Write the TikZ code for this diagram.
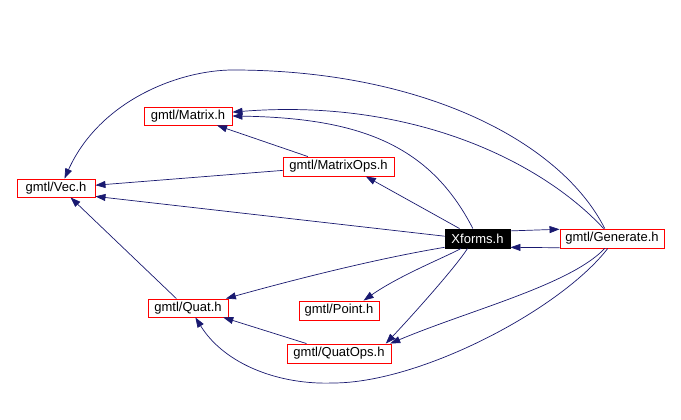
\documentclass[tikz,border=0pt]{standalone}
\usepackage{fontspec}
\setmainfont{Liberation Sans}
\usetikzlibrary{arrows.meta}
\definecolor{edgeblue}{HTML}{191970}
\begin{document}
\begin{tikzpicture}[x=1pt,y=-1pt,
  box/.style={draw=red, line width=0.9pt, rectangle, inner sep=0pt, font=\fontsize{13}{15}\selectfont, text=black},
  edge/.style={draw=edgeblue, line width=0.7pt, -{Triangle[length=10pt,width=7pt]}}]
\useasboundingbox[fill=white] (0,0) rectangle (681,420);
\node[box, minimum width=78pt, minimum height=18pt] (Vec) at (56,188) {gmtl/Vec.h};
\node[box, minimum width=88pt, minimum height=18pt] (Matrix) at (188,116) {gmtl/Matrix.h};
\node[box, minimum width=111pt, minimum height=19pt] (MatrixOps) at (338.5,166.5) {gmtl/MatrixOps.h};
\node[box, draw=black, fill=black, text=white, minimum width=65pt, minimum height=19pt] (Xforms) at (477.5,238.5) {Xforms.h};
\node[box, minimum width=104pt, minimum height=19pt] (Generate) at (612,238.5) {gmtl/Generate.h};
\node[box, minimum width=80pt, minimum height=18pt] (Quat) at (188,308) {gmtl/Quat.h};
\node[box, minimum width=80pt, minimum height=19pt] (Point) at (339,310.5) {gmtl/Point.h};
\node[box, minimum width=104pt, minimum height=19pt] (QuatOps) at (339,353.5) {gmtl/QuatOps.h};
\coordinate (topV) at (233,70);
\coordinate (botQ) at (333,383);

\draw[edge] (Xforms.13) -- (Generate.170);
\draw[edge] (Generate.190) -- (Xforms.345);
\draw[edge] (Xforms.151) -- (MatrixOps.340);
\draw[edge] (Xforms.115) .. controls (430,145) and (360,118) .. (Matrix.east);
\draw[edge] (Xforms.176) -- (Vec.348);
\draw[edge] (MatrixOps.162) -- (Matrix.342);
\draw[edge] (MatrixOps.184) -- (Vec.4);
\draw[edge] (Generate.130) .. controls (540,160) and (410,98) .. (Matrix.5);
\draw[edge] (Generate.126) .. controls (560,140) and (420,70) .. (topV) .. controls (180,70) and (100,100) .. (Vec.48);
\draw[edge] (Quat.141) -- (Vec.327);
\draw[edge] (Xforms.195) .. controls (380,258) and (300,278) .. (Quat.14);
\draw[edge] (Xforms.211) .. controls (448,256) and (400,275) .. (Point.22);
\draw[edge] (Xforms.225) .. controls (455,268) and (410,318) .. (QuatOps.12);
\draw[edge] (QuatOps.163) -- (Quat.345);
\draw[edge] (Generate.234) .. controls (570,285) and (470,310) .. (QuatOps.11);
\draw[edge] (Generate.247) .. controls (560,310) and (420,383) .. (botQ) .. controls (280,385) and (225,365) .. (Quat.308);
\end{tikzpicture}
\end{document}
